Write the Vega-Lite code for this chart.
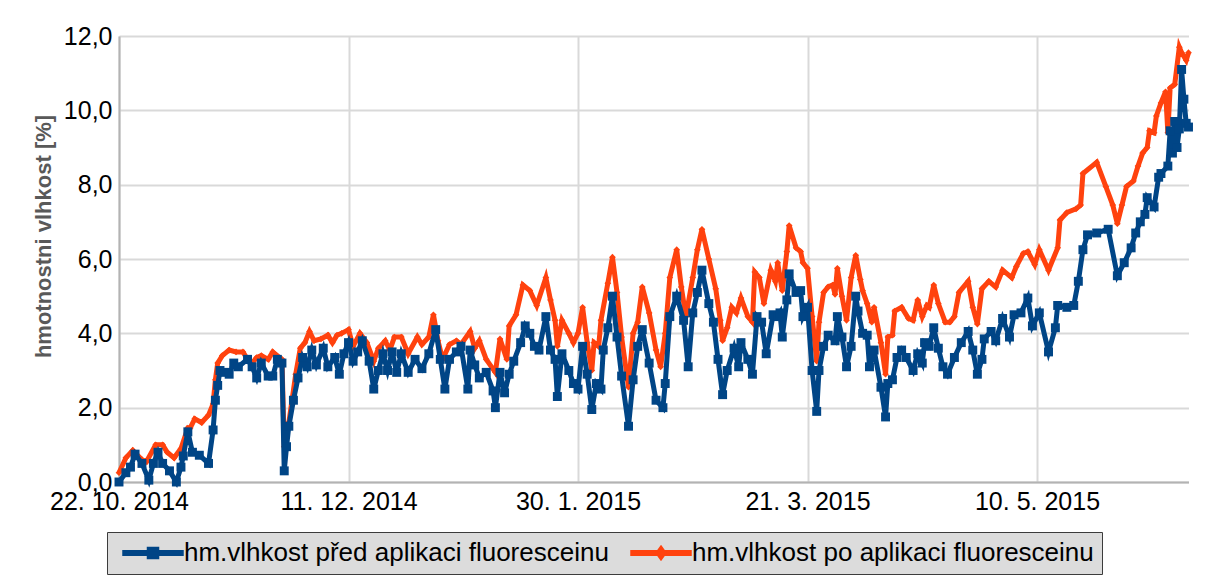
{
"$schema": "https://vega.github.io/schema/vega-lite/v6.json",
"width": 1069.5,
"height": 446,
"autosize": {"type": "none"},
"padding": {"left": 119, "top": 36, "right": 22, "bottom": 104},
"background": "white",
"config": {"view": {"stroke": null}, "font": "Liberation Sans"},
"data": {"values": [
{"datum":"2014-10-22T00:00","serie":"před","hodnota":0.0},
{"datum":"2014-10-23T12:00","serie":"před","hodnota":0.25},
{"datum":"2014-10-24T12:00","serie":"před","hodnota":0.4},
{"datum":"2014-10-25T12:00","serie":"před","hodnota":0.75},
{"datum":"2014-10-27T00:00","serie":"před","hodnota":0.5},
{"datum":"2014-10-28T12:00","serie":"před","hodnota":0.05},
{"datum":"2014-10-29T12:00","serie":"před","hodnota":0.5},
{"datum":"2014-10-30T12:00","serie":"před","hodnota":0.8},
{"datum":"2014-10-31T12:00","serie":"před","hodnota":0.5},
{"datum":"2014-11-02T00:00","serie":"před","hodnota":0.3},
{"datum":"2014-11-03T12:00","serie":"před","hodnota":0.0},
{"datum":"2014-11-04T12:00","serie":"před","hodnota":0.4},
{"datum":"2014-11-05T00:00","serie":"před","hodnota":0.7},
{"datum":"2014-11-06T00:00","serie":"před","hodnota":1.35},
{"datum":"2014-11-07T00:00","serie":"před","hodnota":0.8},
{"datum":"2014-11-08T12:00","serie":"před","hodnota":0.72},
{"datum":"2014-11-10T12:00","serie":"před","hodnota":0.5},
{"datum":"2014-11-11T12:00","serie":"před","hodnota":1.4},
{"datum":"2014-11-12T00:00","serie":"před","hodnota":2.2},
{"datum":"2014-11-12T12:00","serie":"před","hodnota":2.6},
{"datum":"2014-11-13T00:00","serie":"před","hodnota":3.0},
{"datum":"2014-11-14T00:00","serie":"před","hodnota":2.95},
{"datum":"2014-11-15T00:00","serie":"před","hodnota":2.9},
{"datum":"2014-11-16T00:00","serie":"před","hodnota":3.2},
{"datum":"2014-11-17T00:00","serie":"před","hodnota":3.1},
{"datum":"2014-11-19T00:00","serie":"před","hodnota":3.3},
{"datum":"2014-11-20T00:00","serie":"před","hodnota":3.1},
{"datum":"2014-11-21T00:00","serie":"před","hodnota":2.8},
{"datum":"2014-11-22T00:00","serie":"před","hodnota":3.2},
{"datum":"2014-11-23T12:00","serie":"před","hodnota":2.85},
{"datum":"2014-11-24T12:00","serie":"před","hodnota":2.85},
{"datum":"2014-11-25T12:00","serie":"před","hodnota":3.3},
{"datum":"2014-11-26T12:00","serie":"před","hodnota":3.2},
{"datum":"2014-11-27T00:00","serie":"před","hodnota":0.3},
{"datum":"2014-11-27T12:00","serie":"před","hodnota":0.95},
{"datum":"2014-11-28T00:00","serie":"před","hodnota":1.5},
{"datum":"2014-11-29T00:00","serie":"před","hodnota":2.2},
{"datum":"2014-11-30T00:00","serie":"před","hodnota":2.8},
{"datum":"2014-12-01T00:00","serie":"před","hodnota":3.35},
{"datum":"2014-12-02T00:00","serie":"před","hodnota":3.1},
{"datum":"2014-12-03T00:00","serie":"před","hodnota":3.55},
{"datum":"2014-12-04T00:00","serie":"před","hodnota":3.15},
{"datum":"2014-12-05T12:00","serie":"před","hodnota":3.6},
{"datum":"2014-12-06T12:00","serie":"před","hodnota":3.1},
{"datum":"2014-12-08T00:00","serie":"před","hodnota":3.35},
{"datum":"2014-12-09T00:00","serie":"před","hodnota":2.9},
{"datum":"2014-12-10T00:00","serie":"před","hodnota":3.45},
{"datum":"2014-12-11T00:00","serie":"před","hodnota":3.75},
{"datum":"2014-12-12T00:00","serie":"před","hodnota":3.25},
{"datum":"2014-12-13T00:00","serie":"před","hodnota":3.5},
{"datum":"2014-12-14T00:00","serie":"před","hodnota":3.8},
{"datum":"2014-12-15T12:00","serie":"před","hodnota":3.25},
{"datum":"2014-12-16T12:00","serie":"před","hodnota":2.5},
{"datum":"2014-12-17T12:00","serie":"před","hodnota":3.0},
{"datum":"2014-12-18T12:00","serie":"před","hodnota":3.45},
{"datum":"2014-12-19T12:00","serie":"před","hodnota":3.0},
{"datum":"2014-12-20T12:00","serie":"před","hodnota":3.5},
{"datum":"2014-12-21T12:00","serie":"před","hodnota":2.95},
{"datum":"2014-12-22T12:00","serie":"před","hodnota":3.45},
{"datum":"2014-12-24T00:00","serie":"před","hodnota":2.95},
{"datum":"2014-12-25T12:00","serie":"před","hodnota":3.3},
{"datum":"2014-12-27T00:00","serie":"před","hodnota":3.05},
{"datum":"2014-12-28T12:00","serie":"před","hodnota":3.45},
{"datum":"2014-12-30T00:00","serie":"před","hodnota":4.1},
{"datum":"2014-12-31T00:00","serie":"před","hodnota":3.3},
{"datum":"2015-01-01T00:00","serie":"před","hodnota":2.5},
{"datum":"2015-01-02T00:00","serie":"před","hodnota":3.3},
{"datum":"2015-01-03T12:00","serie":"před","hodnota":3.5},
{"datum":"2015-01-04T12:00","serie":"před","hodnota":3.65},
{"datum":"2015-01-06T00:00","serie":"před","hodnota":2.5},
{"datum":"2015-01-06T12:00","serie":"před","hodnota":3.55},
{"datum":"2015-01-07T12:00","serie":"před","hodnota":3.15},
{"datum":"2015-01-08T12:00","serie":"před","hodnota":2.8},
{"datum":"2015-01-10T00:00","serie":"před","hodnota":2.95},
{"datum":"2015-01-11T12:00","serie":"před","hodnota":2.45},
{"datum":"2015-01-12T00:00","serie":"před","hodnota":2.0},
{"datum":"2015-01-13T00:00","serie":"před","hodnota":2.95},
{"datum":"2015-01-14T00:00","serie":"před","hodnota":2.4},
{"datum":"2015-01-15T00:00","serie":"před","hodnota":2.9},
{"datum":"2015-01-16T00:00","serie":"před","hodnota":3.25},
{"datum":"2015-01-17T12:00","serie":"před","hodnota":3.75},
{"datum":"2015-01-18T12:00","serie":"před","hodnota":4.2},
{"datum":"2015-01-19T12:00","serie":"před","hodnota":4.0},
{"datum":"2015-01-20T12:00","serie":"před","hodnota":3.65},
{"datum":"2015-01-21T12:00","serie":"před","hodnota":3.55},
{"datum":"2015-01-23T00:00","serie":"před","hodnota":4.45},
{"datum":"2015-01-24T00:00","serie":"před","hodnota":3.55},
{"datum":"2015-01-25T00:00","serie":"před","hodnota":3.3},
{"datum":"2015-01-25T12:00","serie":"před","hodnota":2.3},
{"datum":"2015-01-26T12:00","serie":"před","hodnota":3.45},
{"datum":"2015-01-28T00:00","serie":"před","hodnota":3.0},
{"datum":"2015-01-29T00:00","serie":"před","hodnota":2.65},
{"datum":"2015-01-30T00:00","serie":"před","hodnota":2.5},
{"datum":"2015-01-31T00:00","serie":"před","hodnota":3.65},
{"datum":"2015-02-01T00:00","serie":"před","hodnota":2.9},
{"datum":"2015-02-02T00:00","serie":"před","hodnota":1.95},
{"datum":"2015-02-03T00:00","serie":"před","hodnota":2.65},
{"datum":"2015-02-04T00:00","serie":"před","hodnota":2.5},
{"datum":"2015-02-04T12:00","serie":"před","hodnota":3.55},
{"datum":"2015-02-05T12:00","serie":"před","hodnota":4.15},
{"datum":"2015-02-06T12:00","serie":"před","hodnota":5.0},
{"datum":"2015-02-07T12:00","serie":"před","hodnota":3.9},
{"datum":"2015-02-08T12:00","serie":"před","hodnota":2.85},
{"datum":"2015-02-10T00:00","serie":"před","hodnota":1.5},
{"datum":"2015-02-11T00:00","serie":"před","hodnota":2.75},
{"datum":"2015-02-12T00:00","serie":"před","hodnota":3.65},
{"datum":"2015-02-13T00:00","serie":"před","hodnota":4.1},
{"datum":"2015-02-14T12:00","serie":"před","hodnota":3.2},
{"datum":"2015-02-16T00:00","serie":"před","hodnota":2.2},
{"datum":"2015-02-17T12:00","serie":"před","hodnota":2.0},
{"datum":"2015-02-18T00:00","serie":"před","hodnota":2.65},
{"datum":"2015-02-19T00:00","serie":"před","hodnota":4.45},
{"datum":"2015-02-20T12:00","serie":"před","hodnota":5.0},
{"datum":"2015-02-22T00:00","serie":"před","hodnota":4.35},
{"datum":"2015-02-23T00:00","serie":"před","hodnota":3.1},
{"datum":"2015-02-24T00:00","serie":"před","hodnota":4.55},
{"datum":"2015-02-25T00:00","serie":"před","hodnota":5.1},
{"datum":"2015-02-26T00:00","serie":"před","hodnota":5.7},
{"datum":"2015-02-27T12:00","serie":"před","hodnota":4.8},
{"datum":"2015-02-28T12:00","serie":"před","hodnota":4.3},
{"datum":"2015-03-01T12:00","serie":"před","hodnota":3.3},
{"datum":"2015-03-02T12:00","serie":"před","hodnota":2.35},
{"datum":"2015-03-03T12:00","serie":"před","hodnota":3.0},
{"datum":"2015-03-05T00:00","serie":"před","hodnota":3.6},
{"datum":"2015-03-06T00:00","serie":"před","hodnota":3.1},
{"datum":"2015-03-06T12:00","serie":"před","hodnota":3.75},
{"datum":"2015-03-08T00:00","serie":"před","hodnota":3.3},
{"datum":"2015-03-09T00:00","serie":"před","hodnota":2.9},
{"datum":"2015-03-10T00:00","serie":"před","hodnota":4.45},
{"datum":"2015-03-11T00:00","serie":"před","hodnota":4.3},
{"datum":"2015-03-12T00:00","serie":"před","hodnota":3.45},
{"datum":"2015-03-13T12:00","serie":"před","hodnota":4.5},
{"datum":"2015-03-14T12:00","serie":"před","hodnota":4.45},
{"datum":"2015-03-15T00:00","serie":"před","hodnota":4.55},
{"datum":"2015-03-15T12:00","serie":"před","hodnota":3.9},
{"datum":"2015-03-16T12:00","serie":"před","hodnota":4.9},
{"datum":"2015-03-17T00:00","serie":"před","hodnota":5.6},
{"datum":"2015-03-18T12:00","serie":"před","hodnota":5.1},
{"datum":"2015-03-19T12:00","serie":"před","hodnota":5.15},
{"datum":"2015-03-20T00:00","serie":"před","hodnota":4.45},
{"datum":"2015-03-21T00:00","serie":"před","hodnota":4.7},
{"datum":"2015-03-22T00:00","serie":"před","hodnota":3.0},
{"datum":"2015-03-23T00:00","serie":"před","hodnota":1.9},
{"datum":"2015-03-23T12:00","serie":"před","hodnota":3.0},
{"datum":"2015-03-24T12:00","serie":"před","hodnota":3.65},
{"datum":"2015-03-25T12:00","serie":"před","hodnota":3.95},
{"datum":"2015-03-27T00:00","serie":"před","hodnota":3.8},
{"datum":"2015-03-27T12:00","serie":"před","hodnota":4.45},
{"datum":"2015-03-28T12:00","serie":"před","hodnota":3.9},
{"datum":"2015-03-29T12:00","serie":"před","hodnota":3.1},
{"datum":"2015-03-30T12:00","serie":"před","hodnota":3.65},
{"datum":"2015-03-31T12:00","serie":"před","hodnota":5.0},
{"datum":"2015-04-01T00:00","serie":"před","hodnota":4.6},
{"datum":"2015-04-02T00:00","serie":"před","hodnota":4.0},
{"datum":"2015-04-03T00:00","serie":"před","hodnota":3.95},
{"datum":"2015-04-03T12:00","serie":"před","hodnota":3.1},
{"datum":"2015-04-04T12:00","serie":"před","hodnota":3.55},
{"datum":"2015-04-06T00:00","serie":"před","hodnota":2.55},
{"datum":"2015-04-07T00:00","serie":"před","hodnota":1.75},
{"datum":"2015-04-07T12:00","serie":"před","hodnota":2.65},
{"datum":"2015-04-08T12:00","serie":"před","hodnota":2.75},
{"datum":"2015-04-09T12:00","serie":"před","hodnota":3.35},
{"datum":"2015-04-10T12:00","serie":"před","hodnota":3.55},
{"datum":"2015-04-11T12:00","serie":"před","hodnota":3.35},
{"datum":"2015-04-13T00:00","serie":"před","hodnota":3.0},
{"datum":"2015-04-14T00:00","serie":"před","hodnota":3.45},
{"datum":"2015-04-15T00:00","serie":"před","hodnota":3.2},
{"datum":"2015-04-15T12:00","serie":"před","hodnota":3.75},
{"datum":"2015-04-16T12:00","serie":"před","hodnota":3.65},
{"datum":"2015-04-17T12:00","serie":"před","hodnota":4.15},
{"datum":"2015-04-18T12:00","serie":"před","hodnota":3.6},
{"datum":"2015-04-19T12:00","serie":"před","hodnota":3.1},
{"datum":"2015-04-20T12:00","serie":"před","hodnota":2.9},
{"datum":"2015-04-22T00:00","serie":"před","hodnota":3.35},
{"datum":"2015-04-23T12:00","serie":"před","hodnota":3.75},
{"datum":"2015-04-25T00:00","serie":"před","hodnota":4.05},
{"datum":"2015-04-26T00:00","serie":"před","hodnota":3.55},
{"datum":"2015-04-27T00:00","serie":"před","hodnota":2.9},
{"datum":"2015-04-28T00:00","serie":"před","hodnota":3.3},
{"datum":"2015-04-28T12:00","serie":"před","hodnota":3.85},
{"datum":"2015-04-30T00:00","serie":"před","hodnota":4.05},
{"datum":"2015-05-01T00:00","serie":"před","hodnota":3.8},
{"datum":"2015-05-02T12:00","serie":"před","hodnota":4.4},
{"datum":"2015-05-04T00:00","serie":"před","hodnota":3.9},
{"datum":"2015-05-05T00:00","serie":"před","hodnota":4.5},
{"datum":"2015-05-06T12:00","serie":"před","hodnota":4.55},
{"datum":"2015-05-08T00:00","serie":"před","hodnota":4.95},
{"datum":"2015-05-09T00:00","serie":"před","hodnota":4.2},
{"datum":"2015-05-10T12:00","serie":"před","hodnota":4.55},
{"datum":"2015-05-12T12:00","serie":"před","hodnota":3.5},
{"datum":"2015-05-14T00:00","serie":"před","hodnota":4.15},
{"datum":"2015-05-14T12:00","serie":"před","hodnota":4.75},
{"datum":"2015-05-16T12:00","serie":"před","hodnota":4.7},
{"datum":"2015-05-18T00:00","serie":"před","hodnota":4.75},
{"datum":"2015-05-19T00:00","serie":"před","hodnota":5.4},
{"datum":"2015-05-20T00:00","serie":"před","hodnota":6.25},
{"datum":"2015-05-21T00:00","serie":"před","hodnota":6.65},
{"datum":"2015-05-23T00:00","serie":"před","hodnota":6.7},
{"datum":"2015-05-25T12:00","serie":"před","hodnota":6.8},
{"datum":"2015-05-27T12:00","serie":"před","hodnota":5.55},
{"datum":"2015-05-29T00:00","serie":"před","hodnota":5.9},
{"datum":"2015-05-30T12:00","serie":"před","hodnota":6.3},
{"datum":"2015-05-31T12:00","serie":"před","hodnota":6.7},
{"datum":"2015-06-01T12:00","serie":"před","hodnota":7.0},
{"datum":"2015-06-02T12:00","serie":"před","hodnota":7.2},
{"datum":"2015-06-03T00:00","serie":"před","hodnota":7.65},
{"datum":"2015-06-04T12:00","serie":"před","hodnota":7.4},
{"datum":"2015-06-05T12:00","serie":"před","hodnota":8.2},
{"datum":"2015-06-06T00:00","serie":"před","hodnota":8.3},
{"datum":"2015-06-07T12:00","serie":"před","hodnota":8.5},
{"datum":"2015-06-08T00:00","serie":"před","hodnota":9.45},
{"datum":"2015-06-08T12:00","serie":"před","hodnota":8.85},
{"datum":"2015-06-09T00:00","serie":"před","hodnota":9.7},
{"datum":"2015-06-09T12:00","serie":"před","hodnota":9.0},
{"datum":"2015-06-10T00:00","serie":"před","hodnota":9.5},
{"datum":"2015-06-10T12:00","serie":"před","hodnota":11.1},
{"datum":"2015-06-11T00:00","serie":"před","hodnota":10.3},
{"datum":"2015-06-11T12:00","serie":"před","hodnota":9.65},
{"datum":"2015-06-12T00:00","serie":"před","hodnota":9.55},
{"datum":"2014-10-22T00:00","serie":"po","hodnota":0.25},
{"datum":"2014-10-23T12:00","serie":"po","hodnota":0.65},
{"datum":"2014-10-25T00:00","serie":"po","hodnota":0.85},
{"datum":"2014-10-27T00:00","serie":"po","hodnota":0.6},
{"datum":"2014-10-28T00:00","serie":"po","hodnota":0.55},
{"datum":"2014-10-30T00:00","serie":"po","hodnota":1.0},
{"datum":"2014-10-31T12:00","serie":"po","hodnota":1.0},
{"datum":"2014-11-01T12:00","serie":"po","hodnota":0.8},
{"datum":"2014-11-03T00:00","serie":"po","hodnota":0.65},
{"datum":"2014-11-04T12:00","serie":"po","hodnota":0.9},
{"datum":"2014-11-06T00:00","serie":"po","hodnota":1.45},
{"datum":"2014-11-06T12:00","serie":"po","hodnota":1.45},
{"datum":"2014-11-07T12:00","serie":"po","hodnota":1.7},
{"datum":"2014-11-09T00:00","serie":"po","hodnota":1.6},
{"datum":"2014-11-10T12:00","serie":"po","hodnota":1.8},
{"datum":"2014-11-11T12:00","serie":"po","hodnota":2.1},
{"datum":"2014-11-12T00:00","serie":"po","hodnota":2.75},
{"datum":"2014-11-12T12:00","serie":"po","hodnota":3.2},
{"datum":"2014-11-13T12:00","serie":"po","hodnota":3.4},
{"datum":"2014-11-15T00:00","serie":"po","hodnota":3.55},
{"datum":"2014-11-16T12:00","serie":"po","hodnota":3.5},
{"datum":"2014-11-18T00:00","serie":"po","hodnota":3.5},
{"datum":"2014-11-19T00:00","serie":"po","hodnota":3.3},
{"datum":"2014-11-20T00:00","serie":"po","hodnota":3.2},
{"datum":"2014-11-21T00:00","serie":"po","hodnota":3.35},
{"datum":"2014-11-22T00:00","serie":"po","hodnota":3.4},
{"datum":"2014-11-23T12:00","serie":"po","hodnota":3.3},
{"datum":"2014-11-24T12:00","serie":"po","hodnota":3.5},
{"datum":"2014-11-26T12:00","serie":"po","hodnota":3.3},
{"datum":"2014-11-27T00:00","serie":"po","hodnota":0.95},
{"datum":"2014-11-28T00:00","serie":"po","hodnota":1.6},
{"datum":"2014-11-29T12:00","serie":"po","hodnota":2.9},
{"datum":"2014-11-30T12:00","serie":"po","hodnota":3.6},
{"datum":"2014-12-01T12:00","serie":"po","hodnota":3.75},
{"datum":"2014-12-02T12:00","serie":"po","hodnota":4.05},
{"datum":"2014-12-03T12:00","serie":"po","hodnota":3.8},
{"datum":"2014-12-05T00:00","serie":"po","hodnota":3.85},
{"datum":"2014-12-06T12:00","serie":"po","hodnota":3.95},
{"datum":"2014-12-07T12:00","serie":"po","hodnota":3.75},
{"datum":"2014-12-08T12:00","serie":"po","hodnota":3.95},
{"datum":"2014-12-09T12:00","serie":"po","hodnota":4.0},
{"datum":"2014-12-11T00:00","serie":"po","hodnota":4.1},
{"datum":"2014-12-12T00:00","serie":"po","hodnota":3.65},
{"datum":"2014-12-13T12:00","serie":"po","hodnota":4.0},
{"datum":"2014-12-15T00:00","serie":"po","hodnota":3.75},
{"datum":"2014-12-16T12:00","serie":"po","hodnota":3.25},
{"datum":"2014-12-17T12:00","serie":"po","hodnota":3.6},
{"datum":"2014-12-19T00:00","serie":"po","hodnota":3.8},
{"datum":"2014-12-20T00:00","serie":"po","hodnota":3.55},
{"datum":"2014-12-21T00:00","serie":"po","hodnota":3.9},
{"datum":"2014-12-22T12:00","serie":"po","hodnota":3.9},
{"datum":"2014-12-24T00:00","serie":"po","hodnota":3.45},
{"datum":"2014-12-26T00:00","serie":"po","hodnota":3.9},
{"datum":"2014-12-27T00:00","serie":"po","hodnota":3.7},
{"datum":"2014-12-28T12:00","serie":"po","hodnota":3.9},
{"datum":"2014-12-29T12:00","serie":"po","hodnota":4.5},
{"datum":"2014-12-30T12:00","serie":"po","hodnota":3.8},
{"datum":"2014-12-31T12:00","serie":"po","hodnota":3.3},
{"datum":"2015-01-02T00:00","serie":"po","hodnota":3.7},
{"datum":"2015-01-03T12:00","serie":"po","hodnota":3.8},
{"datum":"2015-01-04T12:00","serie":"po","hodnota":3.7},
{"datum":"2015-01-06T12:00","serie":"po","hodnota":4.05},
{"datum":"2015-01-07T12:00","serie":"po","hodnota":3.6},
{"datum":"2015-01-08T12:00","serie":"po","hodnota":3.8},
{"datum":"2015-01-10T00:00","serie":"po","hodnota":3.3},
{"datum":"2015-01-12T00:00","serie":"po","hodnota":2.95},
{"datum":"2015-01-13T00:00","serie":"po","hodnota":3.85},
{"datum":"2015-01-14T12:00","serie":"po","hodnota":3.3},
{"datum":"2015-01-15T00:00","serie":"po","hodnota":4.2},
{"datum":"2015-01-16T12:00","serie":"po","hodnota":4.5},
{"datum":"2015-01-18T00:00","serie":"po","hodnota":5.3},
{"datum":"2015-01-19T12:00","serie":"po","hodnota":5.15},
{"datum":"2015-01-21T00:00","serie":"po","hodnota":4.75},
{"datum":"2015-01-23T00:00","serie":"po","hodnota":5.5},
{"datum":"2015-01-24T00:00","serie":"po","hodnota":4.9},
{"datum":"2015-01-25T00:00","serie":"po","hodnota":4.35},
{"datum":"2015-01-25T12:00","serie":"po","hodnota":3.65},
{"datum":"2015-01-26T12:00","serie":"po","hodnota":4.35},
{"datum":"2015-01-28T00:00","serie":"po","hodnota":4.0},
{"datum":"2015-01-29T00:00","serie":"po","hodnota":3.75},
{"datum":"2015-01-30T00:00","serie":"po","hodnota":4.0},
{"datum":"2015-01-31T00:00","serie":"po","hodnota":4.7},
{"datum":"2015-02-01T00:00","serie":"po","hodnota":3.75},
{"datum":"2015-02-02T00:00","serie":"po","hodnota":3.0},
{"datum":"2015-02-02T12:00","serie":"po","hodnota":3.75},
{"datum":"2015-02-03T12:00","serie":"po","hodnota":3.65},
{"datum":"2015-02-04T00:00","serie":"po","hodnota":4.35},
{"datum":"2015-02-05T12:00","serie":"po","hodnota":5.35},
{"datum":"2015-02-06T12:00","serie":"po","hodnota":6.05},
{"datum":"2015-02-07T12:00","serie":"po","hodnota":5.1},
{"datum":"2015-02-08T12:00","serie":"po","hodnota":3.9},
{"datum":"2015-02-10T00:00","serie":"po","hodnota":2.55},
{"datum":"2015-02-11T00:00","serie":"po","hodnota":4.0},
{"datum":"2015-02-12T00:00","serie":"po","hodnota":4.3},
{"datum":"2015-02-13T00:00","serie":"po","hodnota":5.25},
{"datum":"2015-02-14T12:00","serie":"po","hodnota":4.55},
{"datum":"2015-02-16T00:00","serie":"po","hodnota":3.55},
{"datum":"2015-02-17T00:00","serie":"po","hodnota":3.1},
{"datum":"2015-02-18T00:00","serie":"po","hodnota":4.0},
{"datum":"2015-02-19T00:00","serie":"po","hodnota":5.5},
{"datum":"2015-02-20T12:00","serie":"po","hodnota":6.25},
{"datum":"2015-02-21T12:00","serie":"po","hodnota":5.25},
{"datum":"2015-02-22T12:00","serie":"po","hodnota":4.45},
{"datum":"2015-02-24T00:00","serie":"po","hodnota":5.5},
{"datum":"2015-02-25T00:00","serie":"po","hodnota":6.25},
{"datum":"2015-02-26T00:00","serie":"po","hodnota":6.8},
{"datum":"2015-02-27T12:00","serie":"po","hodnota":6.0},
{"datum":"2015-03-01T00:00","serie":"po","hodnota":5.2},
{"datum":"2015-03-02T00:00","serie":"po","hodnota":4.35},
{"datum":"2015-03-02T12:00","serie":"po","hodnota":3.8},
{"datum":"2015-03-03T12:00","serie":"po","hodnota":4.15},
{"datum":"2015-03-04T12:00","serie":"po","hodnota":4.7},
{"datum":"2015-03-05T12:00","serie":"po","hodnota":4.55},
{"datum":"2015-03-06T12:00","serie":"po","hodnota":4.95},
{"datum":"2015-03-08T00:00","serie":"po","hodnota":4.45},
{"datum":"2015-03-09T00:00","serie":"po","hodnota":4.3},
{"datum":"2015-03-09T12:00","serie":"po","hodnota":5.65},
{"datum":"2015-03-10T12:00","serie":"po","hodnota":5.5},
{"datum":"2015-03-11T12:00","serie":"po","hodnota":4.8},
{"datum":"2015-03-13T00:00","serie":"po","hodnota":5.7},
{"datum":"2015-03-14T00:00","serie":"po","hodnota":5.4},
{"datum":"2015-03-14T12:00","serie":"po","hodnota":5.9},
{"datum":"2015-03-15T00:00","serie":"po","hodnota":5.5},
{"datum":"2015-03-15T12:00","serie":"po","hodnota":5.15},
{"datum":"2015-03-16T12:00","serie":"po","hodnota":6.2},
{"datum":"2015-03-17T00:00","serie":"po","hodnota":6.9},
{"datum":"2015-03-18T12:00","serie":"po","hodnota":6.3},
{"datum":"2015-03-19T12:00","serie":"po","hodnota":6.2},
{"datum":"2015-03-20T00:00","serie":"po","hodnota":5.9},
{"datum":"2015-03-21T00:00","serie":"po","hodnota":5.75},
{"datum":"2015-03-22T00:00","serie":"po","hodnota":4.45},
{"datum":"2015-03-23T00:00","serie":"po","hodnota":3.25},
{"datum":"2015-03-23T12:00","serie":"po","hodnota":4.3},
{"datum":"2015-03-24T12:00","serie":"po","hodnota":5.1},
{"datum":"2015-03-25T12:00","serie":"po","hodnota":5.25},
{"datum":"2015-03-26T12:00","serie":"po","hodnota":5.3},
{"datum":"2015-03-27T00:00","serie":"po","hodnota":5.05},
{"datum":"2015-03-27T12:00","serie":"po","hodnota":5.75},
{"datum":"2015-03-28T12:00","serie":"po","hodnota":5.0},
{"datum":"2015-03-29T12:00","serie":"po","hodnota":4.35},
{"datum":"2015-03-30T12:00","serie":"po","hodnota":5.5},
{"datum":"2015-03-31T12:00","serie":"po","hodnota":6.1},
{"datum":"2015-04-01T12:00","serie":"po","hodnota":5.45},
{"datum":"2015-04-02T00:00","serie":"po","hodnota":5.15},
{"datum":"2015-04-03T00:00","serie":"po","hodnota":4.8},
{"datum":"2015-04-04T00:00","serie":"po","hodnota":4.3},
{"datum":"2015-04-04T12:00","serie":"po","hodnota":4.7},
{"datum":"2015-04-06T00:00","serie":"po","hodnota":3.75},
{"datum":"2015-04-07T00:00","serie":"po","hodnota":2.9},
{"datum":"2015-04-07T12:00","serie":"po","hodnota":3.9},
{"datum":"2015-04-08T12:00","serie":"po","hodnota":3.95},
{"datum":"2015-04-09T00:00","serie":"po","hodnota":4.6},
{"datum":"2015-04-10T12:00","serie":"po","hodnota":4.7},
{"datum":"2015-04-12T00:00","serie":"po","hodnota":4.4},
{"datum":"2015-04-13T00:00","serie":"po","hodnota":4.35},
{"datum":"2015-04-14T00:00","serie":"po","hodnota":4.9},
{"datum":"2015-04-15T00:00","serie":"po","hodnota":4.45},
{"datum":"2015-04-16T00:00","serie":"po","hodnota":4.75},
{"datum":"2015-04-16T12:00","serie":"po","hodnota":4.7},
{"datum":"2015-04-17T12:00","serie":"po","hodnota":5.3},
{"datum":"2015-04-18T12:00","serie":"po","hodnota":4.8},
{"datum":"2015-04-20T00:00","serie":"po","hodnota":4.3},
{"datum":"2015-04-21T00:00","serie":"po","hodnota":4.3},
{"datum":"2015-04-22T00:00","serie":"po","hodnota":4.45},
{"datum":"2015-04-23T00:00","serie":"po","hodnota":5.1},
{"datum":"2015-04-25T00:00","serie":"po","hodnota":5.4},
{"datum":"2015-04-26T00:00","serie":"po","hodnota":4.7},
{"datum":"2015-04-27T00:00","serie":"po","hodnota":4.25},
{"datum":"2015-04-28T00:00","serie":"po","hodnota":5.2},
{"datum":"2015-04-29T12:00","serie":"po","hodnota":5.4},
{"datum":"2015-05-01T00:00","serie":"po","hodnota":5.25},
{"datum":"2015-05-02T12:00","serie":"po","hodnota":5.7},
{"datum":"2015-05-04T12:00","serie":"po","hodnota":5.5},
{"datum":"2015-05-05T12:00","serie":"po","hodnota":5.8},
{"datum":"2015-05-07T00:00","serie":"po","hodnota":6.15},
{"datum":"2015-05-08T00:00","serie":"po","hodnota":6.2},
{"datum":"2015-05-09T12:00","serie":"po","hodnota":5.85},
{"datum":"2015-05-10T12:00","serie":"po","hodnota":6.25},
{"datum":"2015-05-12T12:00","serie":"po","hodnota":5.7},
{"datum":"2015-05-14T12:00","serie":"po","hodnota":6.3},
{"datum":"2015-05-15T00:00","serie":"po","hodnota":7.05},
{"datum":"2015-05-16T12:00","serie":"po","hodnota":7.25},
{"datum":"2015-05-18T12:00","serie":"po","hodnota":7.35},
{"datum":"2015-05-19T12:00","serie":"po","hodnota":7.45},
{"datum":"2015-05-20T00:00","serie":"po","hodnota":8.3},
{"datum":"2015-05-23T00:00","serie":"po","hodnota":8.6},
{"datum":"2015-05-25T00:00","serie":"po","hodnota":7.95},
{"datum":"2015-05-26T12:00","serie":"po","hodnota":7.45},
{"datum":"2015-05-27T12:00","serie":"po","hodnota":6.95},
{"datum":"2015-05-28T12:00","serie":"po","hodnota":7.45},
{"datum":"2015-05-29T12:00","serie":"po","hodnota":7.95},
{"datum":"2015-05-31T00:00","serie":"po","hodnota":8.1},
{"datum":"2015-06-01T00:00","serie":"po","hodnota":8.5},
{"datum":"2015-06-02T00:00","serie":"po","hodnota":8.85},
{"datum":"2015-06-03T00:00","serie":"po","hodnota":9.0},
{"datum":"2015-06-03T12:00","serie":"po","hodnota":9.45},
{"datum":"2015-06-04T12:00","serie":"po","hodnota":9.4},
{"datum":"2015-06-05T00:00","serie":"po","hodnota":9.85},
{"datum":"2015-06-06T00:00","serie":"po","hodnota":10.2},
{"datum":"2015-06-07T00:00","serie":"po","hodnota":10.5},
{"datum":"2015-06-07T12:00","serie":"po","hodnota":9.4},
{"datum":"2015-06-08T00:00","serie":"po","hodnota":10.6},
{"datum":"2015-06-09T00:00","serie":"po","hodnota":10.7},
{"datum":"2015-06-10T00:00","serie":"po","hodnota":11.7},
{"datum":"2015-06-10T12:00","serie":"po","hodnota":11.55},
{"datum":"2015-06-11T12:00","serie":"po","hodnota":11.35},
{"datum":"2015-06-12T00:00","serie":"po","hodnota":11.55}
]},
"encoding": {
  "x": {"field": "datum", "type": "temporal",
    "scale": {"domain": [{"year": 2014, "month": 10, "date": 22}, {"year": 2015, "month": 6, "date": 12}]},
    "axis": {"title": null, "values": [{"year": 2014, "month": 10, "date": 22}, {"year": 2014, "month": 12, "date": 11}, {"year": 2015, "month": 1, "date": 30}, {"year": 2015, "month": 3, "date": 21}, {"year": 2015, "month": 5, "date": 10}],
      "format": "%-d. %-m. %Y", "labelFontSize": 25, "labelColor": "#000000", "labelPadding": 7, "labelFlush": false, "labelOverlap": false,
      "ticks": false, "grid": true, "gridColor": "#d9d9d9", "gridWidth": 2, "domainColor": "#b3b3b3", "domainWidth": 2}},
  "y": {"field": "hodnota", "type": "quantitative",
    "scale": {"domain": [0, 12], "nice": false},
    "axis": {"title": "hmotnostni vlhkost [%]", "values": [0, 2, 4, 6, 8, 10, 12],
      "labelExpr": "replace(format(datum.value, '.1f'), '.', ',')",
      "labelFontSize": 25, "labelColor": "#000000", "labelPadding": 7, "ticks": false,
      "grid": true, "gridColor": "#d9d9d9", "gridWidth": 2, "domainColor": "#b3b3b3", "domainWidth": 2,
      "titleFontSize": 22, "titleFontWeight": "bold", "titleColor": "#595959", "titleAngle": -90,
      "titleX": -69, "titleY": 200, "titleAlign": "center", "titleBaseline": "alphabetic"}},
  "color": {"field": "serie", "type": "nominal",
    "scale": {"domain": ["před", "po"], "range": ["#004586", "#ff420e"]},
    "legend": {"title": null, "orient": "none", "legendX": -12, "legendY": 496, "direction": "horizontal",
      "fillColor": "#dcdcdc", "strokeColor": "#3c3c3c", "padding": 8,
      "labelFontSize": 26, "labelColor": "#000000", "labelLimit": 0, "labelOffset": 18,
      "labelExpr": "'hm.vlhkost ' + datum.label + ' aplikaci fluoresceinu'",
      "symbolSize": 400, "symbolOffset": 25, "columnPadding": 14,
      "encode": {"symbols": {"update": {
        "shape": {"signal": "datum.value == 'před' ? 'M-3,-0.22H3V0.22H-3Z M-0.55,-0.55H0.55V0.55H-0.55Z' : 'M-3,-0.22H3V0.22H-3Z M0,-0.7L0.5,0L0,0.7L-0.5,0Z'"},
        "fill": {"signal": "datum.value == 'před' ? '#004586' : '#ff420e'"},
        "stroke": {"value": "transparent"},
        "opacity": {"value": 1}}}}}}
},
"layer": [
  {"transform": [{"filter": "datum.serie == 'po'"}], "mark": {"type": "line", "strokeWidth": 5}},
  {"transform": [{"filter": "datum.serie == 'po'"}], "mark": {"type": "point", "shape": "diamond", "filled": true, "size": 45, "opacity": 1}},
  {"transform": [{"filter": "datum.serie == 'před'"}], "mark": {"type": "line", "strokeWidth": 5}},
  {"transform": [{"filter": "datum.serie == 'před'"}], "mark": {"type": "point", "shape": "square", "filled": true, "size": 80, "opacity": 1}}
]
}
